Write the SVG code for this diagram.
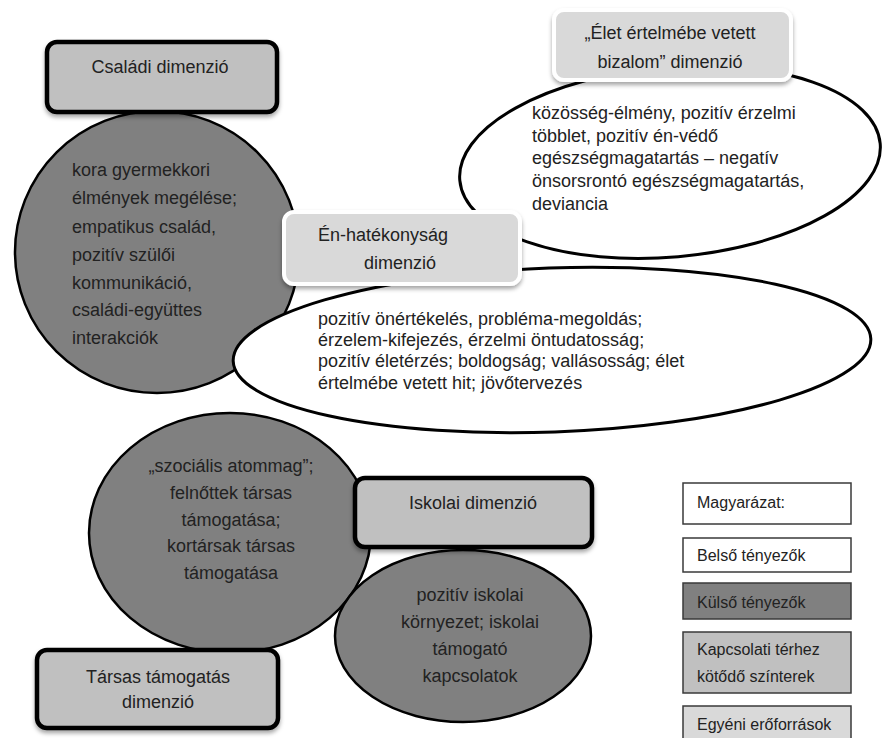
<svg xmlns="http://www.w3.org/2000/svg" width="884" height="738" viewBox="0 0 884 738">
  <defs>
    <filter id="shadow" x="-10%" y="-20%" width="120%" height="150%">
      <feDropShadow dx="0" dy="3" stdDeviation="2" flood-color="#000" flood-opacity="0.35"/>
    </filter>
    <style>
      text { font-family: "Liberation Sans", Arial, sans-serif; font-size: 18px; fill: #222; }
      .mid { text-anchor: middle; }
      .outer { fill: #808080; stroke: #000; stroke-width: 2.5; }
      .inner { fill: #fff; stroke: #000; stroke-width: 3; }
      .dim { fill: #c0c0c0; stroke: #000; stroke-width: 4.5; filter: url(#shadow); }
      .res { fill: #d9d9d9; stroke: #fff; stroke-width: 4; filter: url(#shadow); }
      .key { stroke: #3a3a3a; stroke-width: 1.5; }
      .key-t { font-size: 16px; }
    </style>
  </defs>

  <rect width="884" height="738" fill="#fff"/>

  <!-- meaning in life: outer ellipse -->
  <g id="elet-content">
    <ellipse class="inner" cx="670" cy="162" rx="211" ry="95" transform="rotate(-5 670 162)"/>
    <text x="532" y="119">közösség-élmény, pozitív érzelmi</text>
    <text x="532" y="142">többlet, pozitív én-védő</text>
    <text x="532" y="164">egészségmagatartás – negatív</text>
    <text x="532" y="187">önsorsrontó egészségmagatartás,</text>
    <text x="532" y="210">deviancia</text>
  </g>

  <!-- family circle -->
  <g id="csaladi-content">
    <ellipse class="outer" cx="157" cy="252" rx="142" ry="141"/>
    <text x="72" y="176">kora gyermekkori</text>
    <text x="72" y="204">élmények megélése;</text>
    <text x="72" y="233">empatikus család,</text>
    <text x="72" y="261">pozitív szülői</text>
    <text x="72" y="289">kommunikáció,</text>
    <text x="72" y="316">családi-együttes</text>
    <text x="72" y="344">interakciók</text>
  </g>

  <!-- social support circle -->
  <g id="tarsas-content">
    <ellipse class="outer" cx="230" cy="533" rx="141" ry="120"/>
    <text class="mid" x="231" y="472">„szociális atommag”;</text>
    <text class="mid" x="231" y="499">felnőttek társas</text>
    <text class="mid" x="231" y="526">támogatása;</text>
    <text class="mid" x="231" y="552">kortársak társas</text>
    <text class="mid" x="231" y="579">támogatása</text>
  </g>

  <!-- self-efficacy ellipse -->
  <g id="en-content">
    <ellipse class="inner" cx="552" cy="350" rx="319" ry="82" transform="rotate(-2 552 350)"/>
    <text x="318" y="325">pozitív önértékelés, probléma-megoldás;</text>
    <text x="318" y="346">érzelem-kifejezés, érzelmi öntudatosság;</text>
    <text x="318" y="367">pozitív életérzés; boldogság; vallásosság; élet</text>
    <text x="318" y="389">értelmébe vetett hit; jövőtervezés</text>
  </g>

  <!-- school ellipse -->
  <g id="iskolai-content">
    <ellipse class="outer" cx="463" cy="636" rx="128" ry="86"/>
    <text class="mid" x="470" y="601">pozitív iskolai</text>
    <text class="mid" x="470" y="628">környezet; iskolai</text>
    <text class="mid" x="470" y="655">támogató</text>
    <text class="mid" x="470" y="682">kapcsolatok</text>
  </g>

  <!-- dimension labels -->
  <g id="csaladi-label">
    <rect class="dim" x="47" y="42" width="230" height="70" rx="10"/>
    <text class="mid" x="160" y="73">Családi dimenzió</text>
  </g>
  <g id="elet-label">
    <rect class="res" x="554" y="10" width="237" height="70" rx="10"/>
    <text class="mid" x="670" y="39">„Élet értelmébe vetett</text>
    <text class="mid" x="670" y="68">bizalom” dimenzió</text>
  </g>
  <g id="en-label">
    <rect class="res" x="284" y="212" width="236" height="72" rx="10"/>
    <text class="mid" x="383" y="241">Én-hatékonyság</text>
    <text class="mid" x="400" y="269">dimenzió</text>
  </g>
  <g id="iskolai-label">
    <rect class="dim" x="355" y="478" width="237" height="69" rx="10"/>
    <text class="mid" x="473" y="509">Iskolai dimenzió</text>
  </g>
  <g id="tarsas-label">
    <rect class="dim" x="37" y="650" width="241" height="78" rx="10"/>
    <text class="mid" x="158" y="683">Társas támogatás</text>
    <text class="mid" x="158" y="708">dimenzió</text>
  </g>

  <!-- key -->
  <g id="legend">
    <rect class="key" x="683" y="483" width="168" height="41" fill="#fff"/>
    <text class="key-t" x="697" y="508">Magyarázat:</text>
    <rect class="key" x="683" y="538" width="168" height="34" fill="#fff"/>
    <text class="key-t" x="697" y="561">Belső tényezők</text>
    <rect class="key" x="683" y="583" width="168" height="36" fill="#808080"/>
    <text class="key-t" x="697" y="608">Külső tényezők</text>
    <rect class="key" x="683" y="632" width="168" height="61" fill="#c0c0c0"/>
    <text class="key-t" x="697" y="655">Kapcsolati térhez</text>
    <text class="key-t" x="697" y="682">kötődő színterek</text>
    <rect class="key" x="683" y="706" width="168" height="40" fill="#d9d9d9"/>
    <text class="key-t" x="697" y="730">Egyéni erőforrások</text>
  </g>

  <g id="connectors"/>
</svg>
